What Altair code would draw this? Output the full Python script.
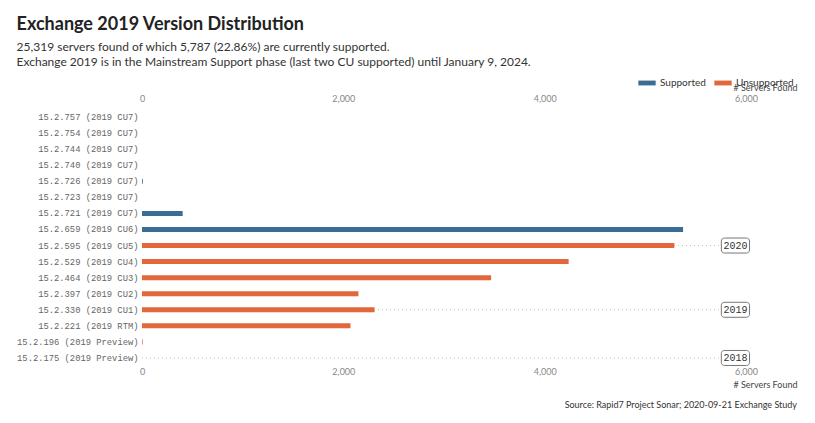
import altair as alt
import pandas as pd

versions = [
    "15.2.757 (2019 CU7)", "15.2.754 (2019 CU7)", "15.2.744 (2019 CU7)",
    "15.2.740 (2019 CU7)", "15.2.726 (2019 CU7)", "15.2.723 (2019 CU7)",
    "15.2.721 (2019 CU7)", "15.2.659 (2019 CU6)", "15.2.595 (2019 CU5)",
    "15.2.529 (2019 CU4)", "15.2.464 (2019 CU3)", "15.2.397 (2019 CU2)",
    "15.2.330 (2019 CU1)", "15.2.221 (2019 RTM)", "15.2.196 (2019 Preview)",
    "15.2.175 (2019 Preview)",
]
servers = [0, 0, 0, 0, 8, 0, 404, 5375, 5288, 4238, 3468, 2150, 2310, 2071, 7, 0]
status = ["Supported"] * 8 + ["Unsupported"] * 8

year_rows = ["15.2.595 (2019 CU5)", "15.2.330 (2019 CU1)", "15.2.175 (2019 Preview)"]
year_labels = ["2020", "2019", "2018"]
rule_start = [0, 0, 0]
rule_end = [5730, 5730, 5730]
box_start = [5755, 5755, 5755]
box_end = [6035, 6035, 6035]
label_pos = [5895, 5895, 5895]

FONT = "Lato"
MONO = "Liberation Mono"
BLUE = "#3b6d94"
ORANGE = "#e2673a"

df = pd.DataFrame({"version": versions, "servers": servers, "status": status})
ydf = pd.DataFrame({"version": year_rows, "year": year_labels, "r0": rule_start,
                    "r1": rule_end, "b0": box_start, "b1": box_end, "lx": label_pos})

yenc = alt.Y("version:N", sort=versions, title=None,
             scale=alt.Scale(paddingInner=0, paddingOuter=0),
             axis=alt.Axis(labelFont=MONO, labelFontSize=8.8, labelColor="#666",
                           ticks=False, domain=False, labelPadding=4, grid=False))

xscale = alt.Scale(domain=[0, 6000], nice=False)

bars = alt.Chart(df).mark_bar(size=5).encode(
    x=alt.X("servers:Q", scale=xscale, title="# Servers Found",
            axis=alt.Axis(orient="bottom", values=[0, 2000, 4000, 6000], format=",.0f",
                          labelFont=FONT, labelFontSize=9, labelColor="#888",
                          labelFlush=False,
                          domain=False, ticks=False, labelPadding=1,
                          gridColor="#e8e8e8", titleFont=FONT, titleFontSize=9,
                          titleFontWeight="normal", titleColor="#444",
                          titleAnchor="end", titleAlign="right", titleX=655,
                          titleY=18, titleBaseline="middle")),
    y=yenc,
    color=alt.Color("status:N",
                    scale=alt.Scale(domain=["Supported", "Unsupported"], range=[BLUE, ORANGE]),
                    legend=alt.Legend(title=None, orient="none", direction="horizontal",
                                      legendX=496, legendY=-35,
                                      symbolType="M-1,-0.28L1,-0.28L1,0.28L-1,0.28Z",
                                      symbolSize=300, symbolStrokeWidth=0,
                                      labelFont=FONT, labelFontSize=10, labelColor="#333",
                                      columnPadding=8)),
)

rules = alt.Chart(ydf).mark_rule(color="#bbbbbb", strokeDash=[1, 3], strokeWidth=1).encode(
    x=alt.X("r0:Q", scale=xscale, title="# Servers Found",
            axis=alt.Axis(orient="top", values=[0, 2000, 4000, 6000], format=",.0f",
                          labelFont=FONT, labelFontSize=9, labelColor="#888",
                          labelFlush=False,
                          domain=False, ticks=False, labelPadding=6, grid=False,
                          titleFont=FONT, titleFontSize=9, titleFontWeight="normal",
                          titleColor="#444", titleAnchor="end", titleAlign="right",
                          titleX=655, titleY=-22, titleBaseline="middle")),
    x2="r1:Q",
    y=yenc,
)

boxes = alt.Chart(ydf).mark_bar(size=15, cornerRadius=3, fill="white", stroke="#777",
                                strokeWidth=1).encode(
    x=alt.X("b0:Q", scale=xscale, axis=None), x2="b1:Q", y=yenc)

texts = alt.Chart(ydf).mark_text(font=MONO, fontSize=10, color="#333").encode(
    x=alt.X("lx:Q", scale=xscale, axis=None), y=yenc, text="year:N")

source = alt.Chart(pd.DataFrame({"t": ["Source: Rapid7 Project Sonar; 2020-09-21 Exchange Study"]})).mark_text(
    font=FONT, fontSize=9, color="#333", align="right", baseline="middle").encode(
    x=alt.value(655), y=alt.value(296), text="t:N")

chart = alt.layer(rules, bars, boxes, texts, source).resolve_axis(x="independent").properties(
    width=604, height=257,
    padding={"left": 16, "top": 16, "right": 10, "bottom": 10},
    title=alt.TitleParams(
        text="Exchange 2019 Version Distribution",
        subtitle=["25,319 servers found of which 5,787 (22.86%) are currently supported.",
                  "Exchange 2019 is in the Mainstream Support phase (last two CU supported) until January 9, 2024."],
        anchor="start", frame="bounds", font=FONT, fontSize=18, fontWeight="bold",
        color="#222", subtitleFont=FONT, subtitleFontSize=12, subtitleColor="#333",
        subtitleLineHeight=15, subtitlePadding=8, offset=6),
).configure_view(stroke=None)

chart.save("out.html", embed_options={"renderer": "svg", "actions": False})
